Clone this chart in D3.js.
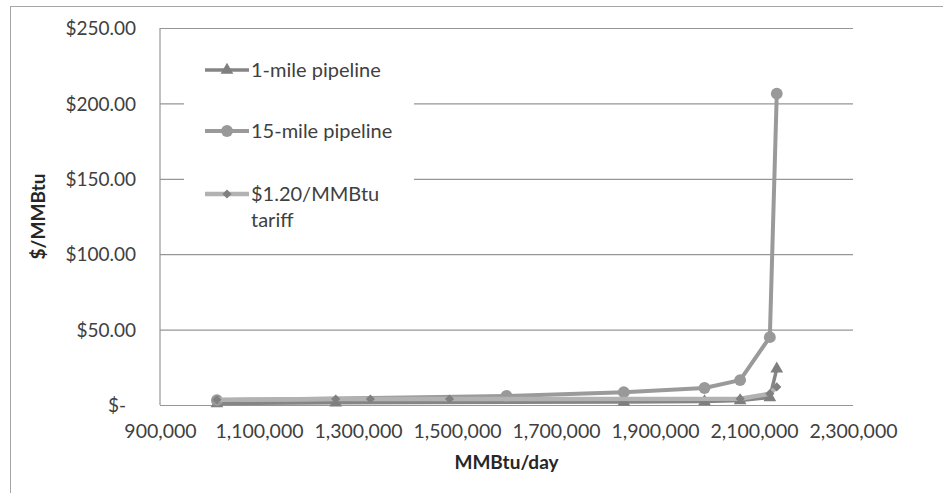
<!DOCTYPE html>
<html>
<head>
<meta charset="utf-8">
<script src="https://cdn.jsdelivr.net/npm/d3@7"></script>
<style>
  html, body { margin: 0; padding: 0; background: #fff; }
  svg { display: block; font-family: Lato, "Open Sans", sans-serif; }
</style>
</head>
<body>
<svg id="chart" width="943" height="493"></svg>
<script>
// Delivered cost ($/MMBtu) versus throughput (MMBtu/day)
const oneMileX   = [1015000, 1255000, 1837000, 2000000, 2072000, 2132000, 2146000];
const oneMileY   = [1.0, 1.5, 2.0, 2.3, 3.0, 5.0, 24.0];
const fifteenX   = [1015000, 1600000, 1837000, 2000000, 2072000, 2132000, 2146000];
const fifteenY   = [3.2, 6.0, 8.5, 11.3, 16.5, 45.0, 206.5];
const tariffX    = [1015000, 1255000, 1325000, 1485000, 2072000, 2132000, 2146000];
const tariffY    = [3.5, 3.9, 4.0, 4.0, 4.2, 7.5, 12.0];

const seriesNames = ["1-mile pipeline", "15-mile pipeline", "$1.20/MMBtu tariff"];
const xTicks = [900000, 1100000, 1300000, 1500000, 1700000, 1900000, 2100000, 2300000];
const yTicks = [0, 50, 100, 150, 200, 250];

const series = [
  { name: seriesNames[0], xs: oneMileX, ys: oneMileY, line: "#858585", width: 3.5, marker: "triangle", fill: "#7f7f7f", size: 70 },
  { name: seriesNames[1], xs: fifteenX, ys: fifteenY, line: "#9a9a9a", width: 4,   marker: "circle",   fill: "#999999", size: 110 },
  { name: seriesNames[2], xs: tariffX,  ys: tariffY,  line: "#b2b2b2", width: 4.5, marker: "diamond",  fill: "#808080", size: 42 }
];

const svg = d3.select("#chart");

// outer chart frame
svg.append("rect")
  .attr("x", 10.5).attr("y", 6.5)
  .attr("width", 1000).attr("height", 1000)
  .attr("fill", "none").attr("stroke", "#a6a6a6").attr("stroke-width", 1);

const plot = { left: 160, right: 853, top: 28, bottom: 405 };

const x = d3.scaleLinear().domain([900000, 2300000]).range([plot.left, plot.right]);
const y = d3.scaleLinear().domain([0, 250]).range([plot.bottom, plot.top]);

// horizontal gridlines
svg.append("g")
  .attr("transform", `translate(${plot.left},0)`)
  .call(d3.axisLeft(y).tickValues(yTicks).tickSize(-(plot.right - plot.left)).tickFormat(""))
  .call(g => g.select(".domain").remove())
  .call(g => g.selectAll("line").attr("stroke", "#969696").attr("stroke-width", 1.2));

// vertical axis line
svg.append("line")
  .attr("x1", plot.left).attr("x2", plot.left)
  .attr("y1", plot.top).attr("y2", plot.bottom)
  .attr("stroke", "#969696").attr("stroke-width", 1.2);

// y tick labels (accounting style)
const yFmt = v => v === 0 ? "$-" : "$" + d3.format(".2f")(v);
svg.append("g")
  .attr("transform", `translate(${plot.left},0)`)
  .call(d3.axisLeft(y).tickValues(yTicks).tickSize(0).tickPadding(0).tickFormat(yFmt))
  .call(g => g.select(".domain").remove())
  .call(g => g.selectAll("text")
    .attr("x", d => d === 0 ? -34 : -24)
    .attr("dy", "0.35em")
    .attr("fill", "#404040")
    .style("font-size", "19px")
    .style("font-family", "Lato, sans-serif"));

// x tick labels
svg.append("g")
  .attr("transform", `translate(0,${plot.bottom})`)
  .call(d3.axisBottom(x).tickValues(xTicks).tickSize(0).tickPadding(0).tickFormat(d3.format(",")))
  .call(g => g.select(".domain").remove())
  .call(g => g.selectAll("text")
    .attr("y", 33)
    .attr("dy", 0)
    .attr("fill", "#404040")
    .style("font-size", "19.5px")
    .style("font-family", "Lato, sans-serif"));

// axis titles
svg.append("text")
  .attr("x", (plot.left + plot.right) / 2)
  .attr("y", 469)
  .attr("text-anchor", "middle")
  .attr("font-weight", "bold")
  .attr("font-size", 19)
  .attr("fill", "#262626")
  .text("MMBtu/day");

svg.append("text")
  .attr("transform", `translate(45,${(plot.top + plot.bottom) / 2}) rotate(-90)`)
  .attr("text-anchor", "middle")
  .attr("font-weight", "bold")
  .attr("font-size", 19)
  .attr("fill", "#262626")
  .text("$/MMBtu");

// diamonds drawn as squares turned 45 degrees
const symbolType = { triangle: d3.symbolTriangle, circle: d3.symbolCircle, diamond: d3.symbolSquare };
const symbolTurn = { triangle: 0, circle: 0, diamond: 45 };

const line = d3.line().x(d => x(d[0])).y(d => y(d[1]));

series.forEach(s => {
  const pts = s.xs.map((v, i) => [v, s.ys[i]]);
  const g = svg.append("g");
  g.append("path")
    .datum(pts)
    .attr("d", line)
    .attr("fill", "none")
    .attr("stroke", s.line)
    .attr("stroke-width", s.width)
    .attr("stroke-linejoin", "round");
  g.selectAll("path.marker")
    .data(pts)
    .join("path")
    .attr("class", "marker")
    .attr("transform", d => `translate(${x(d[0])},${y(d[1])}) rotate(${symbolTurn[s.marker]})`)
    .attr("d", d3.symbol().type(symbolType[s.marker]).size(s.size))
    .attr("fill", s.fill);
});

// legend
const legend = svg.append("g");
legend.append("rect")
  .attr("x", 184).attr("y", 46)
  .attr("width", 230).attr("height", 192)
  .attr("fill", "#fff");

const legendRows = [
  { s: series[0], y: 70, lines: ["1-mile pipeline"] },
  { s: series[1], y: 131, lines: ["15-mile pipeline"] },
  { s: series[2], y: 194, lines: ["$1.20/MMBtu", "tariff"] }
];

legendRows.forEach(r => {
  legend.append("line")
    .attr("x1", 205).attr("x2", 249)
    .attr("y1", r.y).attr("y2", r.y)
    .attr("stroke", r.s.line)
    .attr("stroke-width", r.s.width);
  legend.append("path")
    .attr("transform", `translate(227,${r.y}) rotate(${symbolTurn[r.s.marker]})`)
    .attr("d", d3.symbol().type(symbolType[r.s.marker]).size(r.s.size))
    .attr("fill", r.s.fill);
  const t = legend.append("text")
    .attr("x", 251)
    .attr("y", r.y)
    .attr("fill", "#404040")
    .attr("font-size", 20);
  r.lines.forEach((ln, i) => {
    t.append("tspan")
      .attr("x", 251)
      .attr("dy", i === 0 ? "0.35em" : "1.3em")
      .text(ln);
  });
});
</script>
</body>
</html>
